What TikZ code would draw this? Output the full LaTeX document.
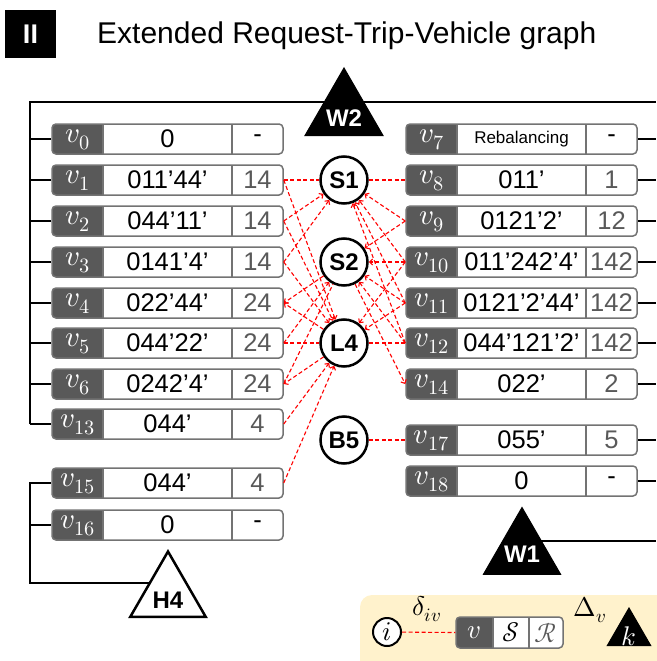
\documentclass[tikz,border=0pt]{standalone}
\usepackage{fontspec}
\usepackage{unicode-math}
\setmainfont{Liberation Sans}
\setmathfont{Latin Modern Math}
\usetikzlibrary{shapes.geometric,arrows.meta}
\pgfdeclarelayer{bg}
\pgfsetlayers{bg,main}
\definecolor{vdark}{HTML}{595959}
\definecolor{framegray}{HTML}{737373}
\definecolor{setgray}{HTML}{595959}
\definecolor{legendbg}{HTML}{FFF2CC}
\tikzset{
  tripframe/.style={draw=framegray, line width=1.5, rounded corners=4, minimum width=231, minimum height=30, inner sep=0},
  divider/.style={draw=framegray, line width=1.5},
  vlab/.style={text=white, font=\fontsize{29}{29}\selectfont},
  triptext/.style={font=\fontsize{25.5}{25.5}\selectfont},
  settext/.style={text=setgray, font=\fontsize{25.5}{25.5}\selectfont},
  reqnode/.style={circle, draw, line width=2.5, fill=white, minimum size=47, inner sep=0, font=\bfseries\fontsize{24}{24}\selectfont},
  wtri/.style={regular polygon, regular polygon sides=3, draw, fill=black, line width=1, inner sep=0},
  htri/.style={regular polygon, regular polygon sides=3, draw, fill=white, line width=2.5, inner sep=0},
  trilab/.style={font=\bfseries\fontsize{24}{24}\selectfont},
  link/.style={line width=2},
  rq/.style={red, line width=1.1, dash pattern=on 4 off 2.5},
  rqa/.style={rq, -{Straight Barb[length=3,width=6]}},
  legendmath/.style={font=\fontsize{27}{27}\selectfont},
}
% one vehicle-trip box: name, left x, centre y, vehicle index, trip, request set
\newcommand\tripbox[6]{%
  \begin{scope}
    \clip[rounded corners=4] (#2,#3-15) rectangle ++(231,30);
    \fill[vdark] (#2,#3-15) rectangle ++(51,30);
  \end{scope}
  \node[tripframe] (#1) at (#2+115.5,#3) {};
  \draw[divider] (#2+51,#3-15) -- ++(0,30);
  \draw[divider] (#2+180,#3-15) -- ++(0,30);
  \node[vlab] at (#2+25.5,#3+1) {$v_{#4}$};
  \node[triptext] at (#2+115.5,#3) {#5};
  \node[settext] at (#2+205.5,#3) {#6};
}
\begin{document}
\begin{tikzpicture}[x=1pt, y=-1pt]
\useasboundingbox (0,0) rectangle (656,661);

% heading
\node[fill=black, minimum width=51, minimum height=48, inner sep=0, text=white, font=\bfseries\fontsize{27}{27}\selectfont] (badge) at (30.5,34) {II};
\node[anchor=base west, inner sep=0, font=\fontsize{30}{30}\selectfont] (heading) at (97,44) {Extended Request-Trip-Vehicle graph};

% left column of trips
\tripbox{v0}{52}{139}{0}{0}{\textcolor{black}{-}}
\tripbox{v1}{52}{180}{1}{011’44’}{14}
\tripbox{v2}{52}{221}{2}{044’11’}{14}
\tripbox{v3}{52}{262}{3}{0141’4’}{14}
\tripbox{v4}{52}{303}{4}{022’44’}{24}
\tripbox{v5}{52}{343}{5}{044’22’}{24}
\tripbox{v6}{52}{384}{6}{0242’4’}{24}
\tripbox{v13}{52}{424}{13}{044’}{4}
\tripbox{v15}{52}{483}{15}{044’}{4}
\tripbox{v16}{52}{525}{16}{0}{\textcolor{black}{-}}

% right column of trips
\tripbox{v7}{406}{139}{7}{\fontsize{17}{17}\selectfont Rebalancing}{\textcolor{black}{-}}
\tripbox{v8}{406}{180}{8}{011’}{1}
\tripbox{v9}{406}{221}{9}{0121’2’}{12}
\tripbox{v10}{406}{262}{10}{011’242’4’}{142}
\tripbox{v11}{406}{303}{11}{0121’2’44’}{142}
\tripbox{v12}{406}{343}{12}{044’121’2’}{142}
\tripbox{v14}{406}{384}{14}{022’}{2}
\tripbox{v17}{406}{440}{17}{055’}{5}
\tripbox{v18}{406}{481}{18}{0}{\textcolor{black}{-}}

% requests
\node[reqnode] (S1) at (344,180) {S1};
\node[reqnode] (S2) at (344,262) {S2};
\node[reqnode] (L4) at (344,343) {L4};
\node[reqnode] (B5) at (344,440) {B5};

% vehicles
\node[wtri, minimum size=90] (W2) at (344,113) {};
\node[trilab, text=white] at (W2.center) [yshift=-5] {W2};
\node[wtri, minimum size=89] (W1) at (522,552) {};
\node[trilab, text=white] at (W1.center) [yshift=-2] {W1};
\node[htri, minimum size=87] (H4) at (168,595) {};
\node[trilab] at (H4.center) [yshift=-5] {H4};

\coordinate (lx) at (30,102);
\coordinate (rx) at (656,102);
\coordinate (hx) at (30,583);
\coordinate (w1r) at (656,541);

\begin{pgfonlayer}{bg}
  % vehicle W2 to its trips
  \draw[link] (v13.west -| lx) -- (lx) -- (rx);
  \foreach \v in {v0,v1,v2,v3,v4,v5,v6,v13}
    \draw[link] (\v.west) -- (\v.west -| lx);
  \foreach \v in {v7,v8,v9,v10,v11,v12,v14,v17,v18}
    \draw[link] (\v.east) -- (\v.east -| rx);
  % vehicle H4 to its trips
  \draw[link] (v15.west) -- (v15.west -| lx) -- (hx) -- (H4.center |- hx);
  \draw[link] (v16.west) -- (v16.west -| lx);
  % vehicle W1
  \draw[link] (W1.center |- w1r) -- (w1r);
\end{pgfonlayer}

% request-trip edges
\draw[rq]  (v1.east) -- (S1);
\draw[rqa] (v1.east) -- (L4);
\draw[rqa] (v2.east) -- (S1);
\draw[rqa] (v2.east) -- (L4);
\draw[rqa] (v3.east) -- (S1);
\draw[rqa] (v3.east) -- (L4);
\draw[rqa] (S2) -- (v4.east);
\draw[rqa] (L4) -- (v4.east);
\draw[rqa] (v5.east) -- (S2);
\draw[rq]  (v5.east) -- (L4);
\draw[rq]  (v6.east) -- (S2);
\draw[rqa] (L4) -- (v6.east);
\draw[rqa] (v13.east) -- (L4);
\draw[rqa] (v15.east) -- (L4);
\draw[rq]  (S1) -- (v8.west);
\draw[rqa] (v9.west) -- (S1);
\draw[rqa] (v9.west) -- (S2);
\draw[rqa] (v10.west) -- (S1);
\draw[rqa] (v10.west) -- (S2);
\draw[rqa] (v10.west) -- (L4);
\draw[rqa] (v11.west) -- (S1);
\draw[rqa] (v11.west) -- (S2);
\draw[rqa] (v11.west) -- (L4);
\draw[rqa] (v12.west) -- (S1);
\draw[rqa] (v12.west) -- (S2);
\draw[rq]  (v12.west) -- (L4);
\draw[rqa] (S2) -- (v14.west);
\draw[rq]  (B5) -- (v17.west);

% legend
\fill[legendbg, rounded corners=12] (360,595) rectangle (680,690);
\node[circle, draw, line width=2, fill=white, minimum size=28, inner sep=0, legendmath] (li) at (387,632) {$i$};
\begin{scope}
  \clip[rounded corners=4] (456,617) rectangle (563,648);
  \fill[white] (456,617) rectangle (563,648);
  \fill[vdark] (456,617) rectangle (493,648);
\end{scope}
\node[draw=framegray, line width=1.5, rounded corners=4, minimum width=107, minimum height=31, inner sep=0] (lbox) at (509.5,632.5) {};
\draw[divider] (493,617) -- (493,648);
\draw[divider] (529,617) -- (529,648);
\node[text=white, legendmath] at (474.5,632.5) {$v$};
\node[legendmath] at (511,632.5) {$\mathcal{S}$};
\node[text=setgray, legendmath] at (546,632.5) {$\mathcal{R}$};
\node[wtri, minimum size=50] (lk) at (629,633) {};
\node[text=white, legendmath] at (lk.center) [yshift=-3] {$k$};
\begin{pgfonlayer}{bg}
  \draw[line width=1.5] (lbox.east) -- (lk.center);
\end{pgfonlayer}
\draw[rq] (li) -- (lbox.west);
\node[legendmath] at (427,609) {$\delta_{iv}$};
\node[legendmath] at (590,610) {$\Delta_v$};
\end{tikzpicture}
\end{document}
